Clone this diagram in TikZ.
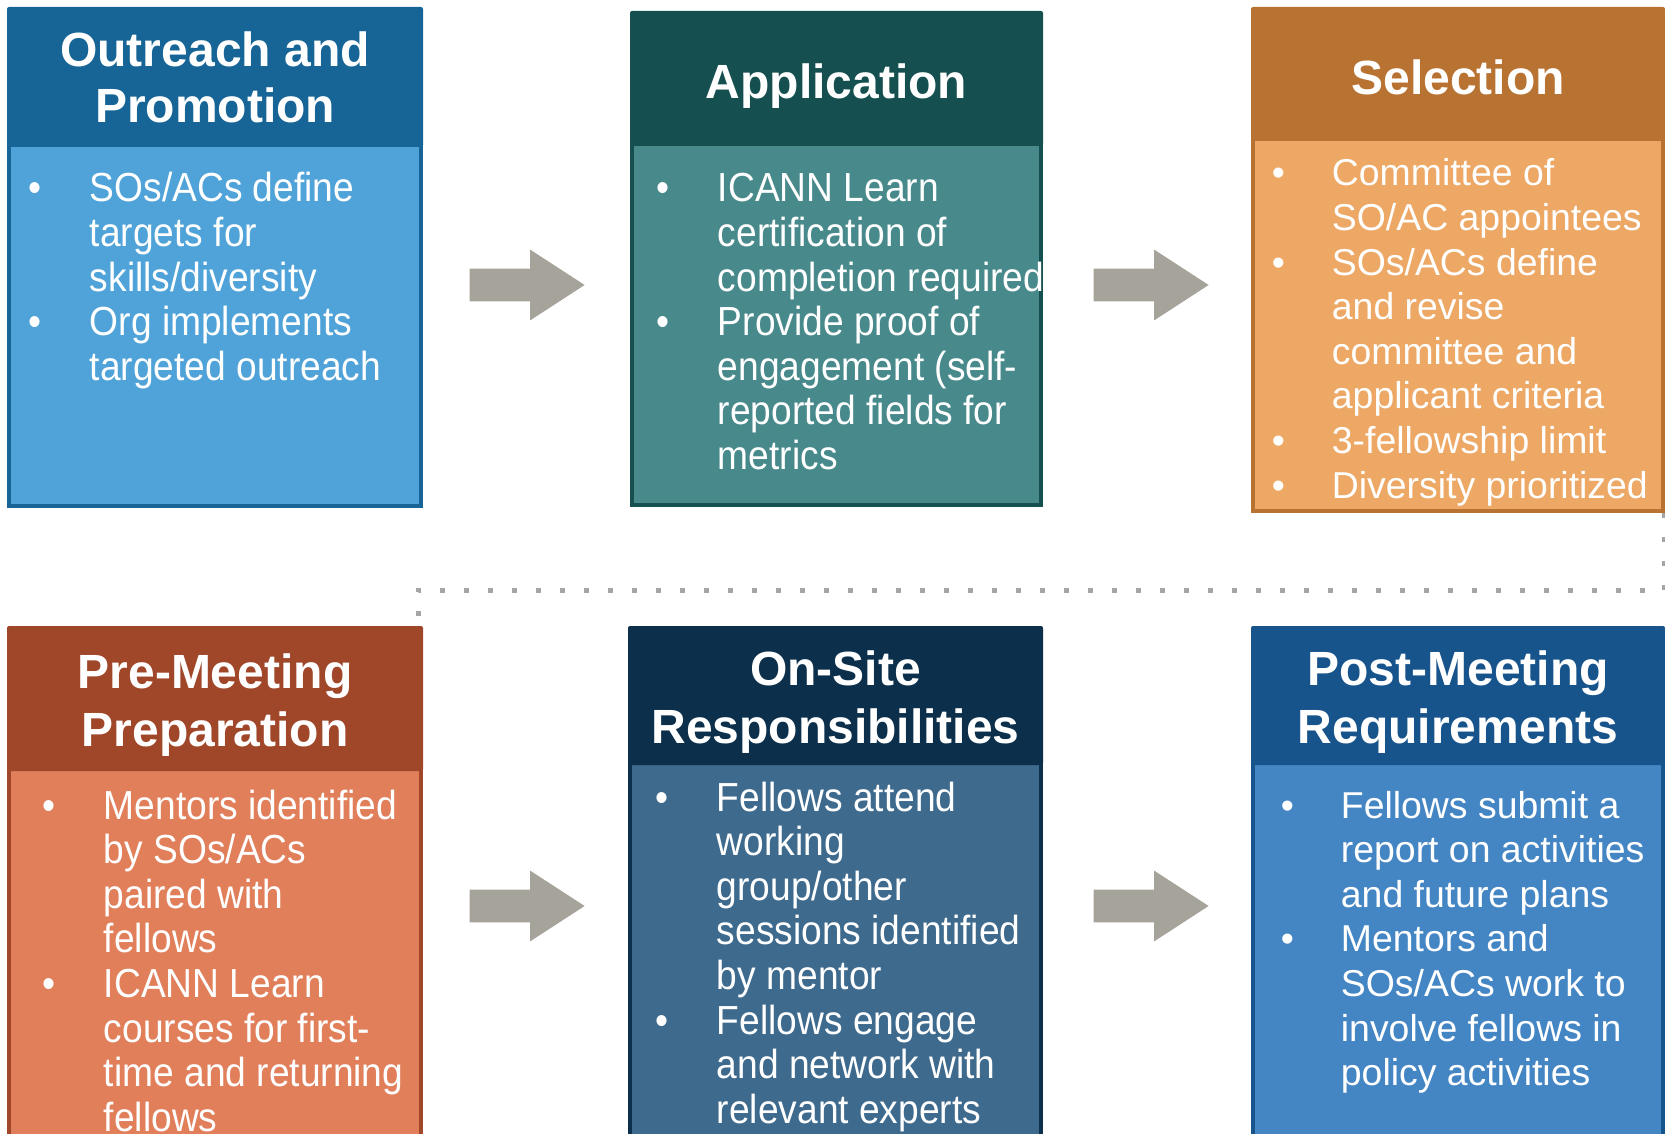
\documentclass[tikz,border=0pt]{standalone}
\usepackage{fontspec}
\setmainfont{Liberation Sans}
\newfontfamily\narrowfont[FakeStretch=0.915]{Liberation Sans}
\usetikzlibrary{shapes.arrows}

\definecolor{outdark}{RGB}{23,101,150}
\definecolor{outlight}{RGB}{79,163,216}
\definecolor{appdark}{RGB}{22,79,80}
\definecolor{applight}{RGB}{72,138,140}
\definecolor{seldark}{RGB}{184,115,51}
\definecolor{sellight}{RGB}{237,168,101}
\definecolor{predark}{RGB}{160,71,42}
\definecolor{prelight}{RGB}{224,127,90}
\definecolor{sitedark}{RGB}{12,47,75}
\definecolor{sitelight}{RGB}{62,106,142}
\definecolor{postdark}{RGB}{23,84,140}
\definecolor{postlight}{RGB}{68,134,196}
\definecolor{arrowgray}{RGB}{166,163,155}
\definecolor{dotgray}{RGB}{166,166,166}

\begin{document}
\begin{tikzpicture}[x=0.5pt, y=-0.5pt,
    head/.style={rectangle, rounded corners=1pt, fill=#1, inner sep=0pt},
    title/.style={text=white, inner sep=0pt, align=center, font=\fontsize{24pt}{#1}\selectfont\bfseries},
    title/.default=28pt,
    body/.style 2 args={rectangle, fill=#1, draw=#2, line width=2pt, inner sep=0pt},
    narrow/.style={text=white, inner sep=0pt, anchor=base west, font=\narrowfont\fontsize{20.3pt}{22.3pt}\selectfont},
    wide/.style={text=white, inner sep=0pt, anchor=base west, font=\fontsize{18.7pt}{22.3pt}\selectfont},
    block/.style={single arrow, fill=arrowgray, inner sep=0pt, text height=8pt, text depth=8pt, minimum width=35pt, minimum height=57.5pt, single arrow head extend=9.5pt, single arrow tip angle=66},
    dots/.style={draw=dotgray, line width=2.5pt, dash pattern=on 2.5pt off 9.5pt}]
  \useasboundingbox (0,0) rectangle (1665,1134);
  \clip (0,0) rectangle (1665,1134);

  % top row
  \node[body={outlight}{outdark}, minimum width=206pt, minimum height=180.5pt] (outB) at (215,325.5) {};
  \node[head=outdark, minimum width=208pt, minimum height=70pt] (outH) at (215,77) {};
  \node[title] (outL) at (outH) {Outreach and\\Promotion};
  \node[narrow] (outT) at (28.5,202) {\begin{tabular}[t]{@{}p{30.5pt}@{}l@{}}
      \textbullet & SOs/ACs define\\
      & targets for\\
      & skills/diversity\\
      \textbullet & Org implements\\
      & targeted outreach
    \end{tabular}};

  \node[body={applight}{appdark}, minimum width=204.5pt, minimum height=180.5pt] (appB) at (836.5,324.5) {};
  \node[head=appdark, minimum width=206.5pt, minimum height=67.5pt] (appH) at (836.5,78.5) {};
  \node[title, yshift=-3.7pt] (appL) at (appH) {Application};
  \node[narrow] (appT) at (656.5,202) {\begin{tabular}[t]{@{}p{30.5pt}@{}l@{}}
      \textbullet & ICANN Learn\\
      & certification of\\
      & completion required\\
      \textbullet & Provide proof of\\
      & engagement (self-\\
      & reported fields for\\
      & metrics
    \end{tabular}};

  \node[body={sellight}{seldark}, minimum width=205pt, minimum height=186pt] (selB) at (1458,325) {};
  \node[head=seldark, minimum width=207pt, minimum height=67pt] (selH) at (1458,74) {};
  \node[title, yshift=-1.6pt] (selL) at (selH) {Selection};
  \node[wide] (selT) at (1271.5,186) {\begin{tabular}[t]{@{}p{30pt}@{}l@{}}
      \textbullet & Committee of\\
      & SO/AC appointees\\
      \textbullet & SOs/ACs define\\
      & and revise\\
      & committee and\\
      & applicant criteria\\
      \textbullet & 3-fellowship limit\\
      \textbullet & Diversity prioritized
    \end{tabular}};

  % bottom row
  \node[body={prelight}{predark}, minimum width=206pt, minimum height=195.5pt] (preB) at (215,964.5) {};
  \node[head=predark, minimum width=208pt, minimum height=72.5pt] (preH) at (215,698.5) {};
  \node[title=29pt, yshift=-3.5pt] (preL) at (preH) {Pre-Meeting\\Preparation};
  \node[narrow] (preT) at (42.5,819) {\begin{tabular}[t]{@{}p{30.5pt}@{}l@{}}
      \textbullet & Mentors identified\\
      & by SOs/ACs\\
      & paired with\\
      & fellows\\
      \textbullet & ICANN Learn\\
      & courses for first-\\
      & time and returning\\
      & fellows
    \end{tabular}};

  \node[body={sitelight}{sitedark}, minimum width=205.5pt, minimum height=198.5pt] (siteB) at (835.5,961.5) {};
  \node[head=sitedark, minimum width=207.5pt, minimum height=69.5pt] (siteH) at (835.5,695.5) {};
  \node[title=29pt, yshift=-3.5pt] (siteL) at (siteH) {On-Site\\Responsibilities};
  \node[narrow] (siteT) at (655.5,811) {\begin{tabular}[t]{@{}p{30.5pt}@{}l@{}}
      \textbullet & Fellows attend\\
      & working\\
      & group/other\\
      & sessions identified\\
      & by mentor\\
      \textbullet & Fellows engage\\
      & and network with\\
      & relevant experts
    \end{tabular}};

  \node[body={postlight}{postdark}, minimum width=205pt, minimum height=198.5pt] (postB) at (1458,961.5) {};
  \node[head=postdark, minimum width=207pt, minimum height=69.5pt] (postH) at (1458,695.5) {};
  \node[title=29pt, yshift=-3.5pt] (postL) at (postH) {Post-Meeting\\Requirements};
  \node[wide] (postT) at (1280.5,818) {\begin{tabular}[t]{@{}p{30pt}@{}l@{}}
      \textbullet & Fellows submit a\\
      & report on activities\\
      & and future plans\\
      \textbullet & Mentors and\\
      & SOs/ACs work to\\
      & involve fellows in\\
      & policy activities
    \end{tabular}};

  % arrows between stages
  \node[block] (arrA) at (514.5,285) {};
  \node[block] (arrB) at (1138.5,285) {};
  \node[block] (arrC) at (514.5,906) {};
  \node[block] (arrD) at (1138.5,906) {};

  % dotted link from selection down to pre-meeting
  \coordinate (dotstart) at ([xshift=-0.5pt]selB.south east);
  \coordinate (dotend) at ([xshift=-2.5pt]preH.north east);
  \coordinate (dotrow) at (0,590);
  \draw[dots] (dotstart) -- (dotstart |- dotrow) -- (dotend |- dotrow) -- (dotend);
\end{tikzpicture}
\end{document}
